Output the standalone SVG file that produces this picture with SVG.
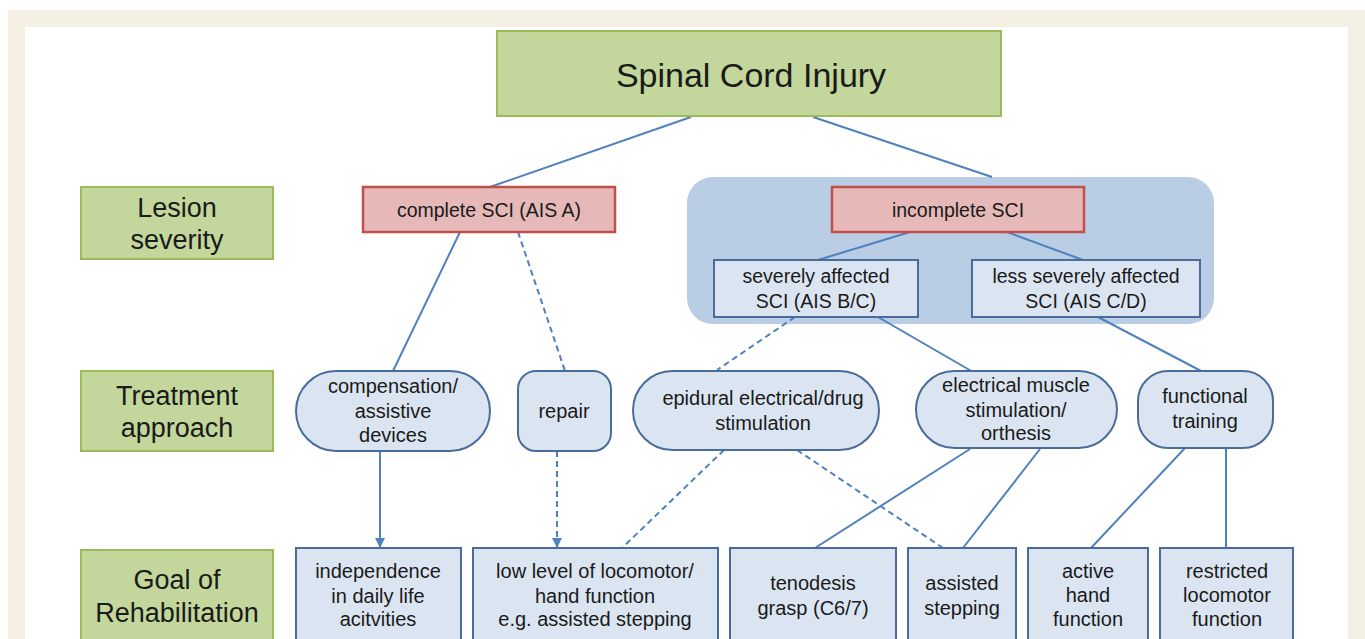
<svg xmlns="http://www.w3.org/2000/svg" width="1365" height="639" viewBox="0 0 1365 639">
<defs>
<style>
text{font-family:"Liberation Sans",Arial,sans-serif;fill:#1a1a1a;stroke:none;text-anchor:middle}
.cat{fill:#c3d69b;stroke:#9bbb59;stroke-width:2}
.ct{font-size:27px}
.red{fill:#e6b9b8;stroke:#c0504d;stroke-width:2.5}
.nb{fill:#dbe5f1;stroke:#4a6c9b;stroke-width:2}
.t20{font-size:20px}
.t19{font-size:19.5px}
.c{fill:none;stroke:#4f81bd;stroke-width:2}
.d{stroke-dasharray:6 4}
</style>
<marker id="ah" viewBox="0 0 10 10" refX="9" refY="5" markerWidth="5" markerHeight="5" orient="auto" markerUnits="strokeWidth">
<path d="M0,0L10,5L0,10z" fill="#4f81bd"/>
</marker>
</defs>
<rect x="0" y="0" width="1365" height="639" fill="#ffffff"/>
<rect x="8" y="10" width="1357" height="629" fill="#f4f1e4"/>
<rect x="25" y="27" width="1323" height="612" fill="#ffffff"/>

<g id="group-incomplete">
<rect x="687" y="177" width="527" height="147" rx="26" fill="#b9cde5"/>
</g>

<g id="connectors">
<line class="c" x1="691" y1="117" x2="490" y2="187"/>
<line class="c" x1="813" y1="117" x2="992" y2="177"/>
<line class="c" x1="460" y1="232" x2="393" y2="371"/>
<line class="c d" x1="518" y1="232" x2="565" y2="371"/>
<line class="c" x1="910" y1="232" x2="818" y2="260"/>
<line class="c" x1="1007" y1="232" x2="1083" y2="260"/>
<line class="c d" x1="795" y1="317" x2="717" y2="370"/>
<line class="c" x1="878" y1="317" x2="973" y2="372"/>
<line class="c" x1="1098" y1="317" x2="1203" y2="372"/>
<line class="c" x1="380" y1="451" x2="380" y2="547" marker-end="url(#ah)"/>
<line class="c d" x1="557" y1="451" x2="557" y2="547" marker-end="url(#ah)"/>
<line class="c d" x1="724" y1="450" x2="622" y2="548"/>
<line class="c d" x1="797" y1="450" x2="943" y2="548"/>
<line class="c" x1="970" y1="449" x2="815" y2="548"/>
<line class="c" x1="1040" y1="449" x2="963" y2="548"/>
<line class="c" x1="1185" y1="448" x2="1091" y2="548"/>
<line class="c" x1="1226" y1="448" x2="1226" y2="548"/>
</g>

<g id="sci">
<rect class="cat" x="497" y="31" width="504" height="85"/>
<text x="751" y="87" style="font-size:34px">Spinal Cord Injury</text>
</g>

<g id="cat-lesion">
<rect class="cat" x="81" y="187" width="192" height="72"/>
<text class="ct" x="177" y="217">Lesion</text>
<text class="ct" x="177" y="249">severity</text>
</g>
<g id="cat-treatment">
<rect class="cat" x="81" y="371" width="192" height="80"/>
<text class="ct" x="177" y="405">Treatment</text>
<text class="ct" x="177" y="437">approach</text>
</g>
<g id="cat-goal">
<rect class="cat" x="81" y="550" width="192" height="100"/>
<text class="ct" x="177" y="589">Goal of</text>
<text class="ct" x="177" y="622">Rehabilitation</text>
</g>

<g id="complete">
<rect class="red" x="363" y="187" width="252" height="45"/>
<text class="t19" x="489" y="217">complete SCI (AIS A)</text>
</g>
<g id="incomplete">
<rect class="red" x="832" y="187" width="252" height="45"/>
<text class="t19" x="958" y="217">incomplete SCI</text>
</g>
<g id="severe">
<rect class="nb" x="714" y="260" width="204" height="57"/>
<text class="t19" x="816" y="283">severely affected</text>
<text class="t19" x="816" y="308">SCI (AIS B/C)</text>
</g>
<g id="less-severe">
<rect class="nb" x="972" y="260" width="228" height="57"/>
<text class="t19" x="1086" y="283">less severely affected</text>
<text class="t19" x="1086" y="308">SCI (AIS C/D)</text>
</g>

<g id="compensation">
<rect class="nb" x="296" y="371" width="194" height="80" rx="40"/>
<text class="t20" x="393" y="393">compensation/</text>
<text class="t20" x="393" y="418">assistive</text>
<text class="t20" x="393" y="442">devices</text>
</g>
<g id="repair">
<rect class="nb" x="518" y="371" width="93" height="80" rx="18"/>
<text class="t20" x="564" y="418">repair</text>
</g>
<g id="epidural">
<rect class="nb" x="633" y="371" width="246" height="79" rx="39.5"/>
<text class="t20" x="763" y="405">epidural electrical/drug</text>
<text class="t20" x="763" y="430">stimulation</text>
</g>
<g id="ems">
<rect class="nb" x="916" y="371" width="201" height="77" rx="38.5"/>
<text class="t20" x="1016" y="392">electrical muscle</text>
<text class="t20" x="1016" y="417">stimulation/</text>
<text class="t20" x="1016" y="440">orthesis</text>
</g>
<g id="functional">
<rect class="nb" x="1138" y="371" width="135" height="77" rx="30"/>
<text class="t20" x="1205" y="403">functional</text>
<text class="t20" x="1205" y="428">training</text>
</g>

<g id="goal-independence">
<rect class="nb" x="296" y="548" width="165" height="100"/>
<text class="t20" x="378" y="578">independence</text>
<text class="t20" x="378" y="603">in daily life</text>
<text class="t20" x="378" y="626">acitvities</text>
</g>
<g id="goal-low">
<rect class="nb" x="473" y="548" width="245" height="100"/>
<text class="t20" x="595" y="578">low level of locomotor/</text>
<text class="t20" x="595" y="603">hand function</text>
<text class="t20" x="595" y="626">e.g. assisted stepping</text>
</g>
<g id="goal-tenodesis">
<rect class="nb" x="730" y="548" width="166" height="100"/>
<text class="t20" x="813" y="590">tenodesis</text>
<text class="t20" x="813" y="615">grasp (C6/7)</text>
</g>
<g id="goal-assisted">
<rect class="nb" x="908" y="548" width="108" height="100"/>
<text class="t20" x="962" y="590">assisted</text>
<text class="t20" x="962" y="615">stepping</text>
</g>
<g id="goal-active">
<rect class="nb" x="1028" y="548" width="120" height="100"/>
<text class="t20" x="1088" y="578">active</text>
<text class="t20" x="1088" y="602">hand</text>
<text class="t20" x="1088" y="626">function</text>
</g>
<g id="goal-restricted">
<rect class="nb" x="1160" y="548" width="133" height="100"/>
<text class="t20" x="1227" y="578">restricted</text>
<text class="t20" x="1227" y="602">locomotor</text>
<text class="t20" x="1227" y="626">function</text>
</g>
</svg>
